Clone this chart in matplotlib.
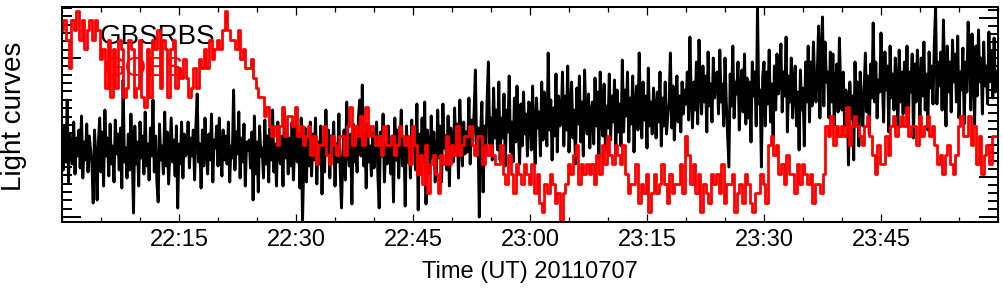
import numpy as np
import matplotlib
matplotlib.use("Agg")
import matplotlib.pyplot as plt
import matplotlib.dates as mdates

# GBSRBS light curve, one sample every 10 s from 22:00 UT (relative flux)
gbsrbs_flux = [
    78, 52, 96, 60, 122, 40, 88, 70, 58, 100, 48, 84, 66, 92, 54, 106, 44, 80, 62, 98, 50, 86, 72, 58,
    19, 92, 64, 22, 80, 104, 50, 90, 36, 112, 66, 84, 46, 98, 58, 76, 40, 102, 68, 88, 52, 94, 34, 142,
    60, 74, 44, 88, 52, 108, 70, 9, 96, 58, 80, 36, 100, 64, 86, 48, 110, 56, 78, 42, 94, 66, 122, 50,
    86, 40, 20, 98, 62, 76, 48, 110, 56, 90, 38, 72, 104, 60, 82, 46, 96, 14, 78, 58, 100, 44, 88, 66,
    70, 100, 54, 84, 66, 92, 42, 96, 128, 60, 78, 34, 92, 56, 104, 70, 48, 88, 62, 108, 40, 82, 74, 96,
    56, 104, 70, 46, 92, 62, 86, 58, 100, 40, 76, 64, 132, 52, 90, 68, 110, 44, 84, 60, 98, 36, 80, 72,
    82, 54, 90, 22, 106, 48, 80, 30, 96, 66, 74, 44, 102, 58, 86, 40, 94, 62, 112, 50, 78, 36, 100, 68,
    58, 86, 36, 110, 64, 92, 48, 84, 56, 100, 42, 76, 96, 60, 88, 34, 104, 0, 62, 94, 40, 84, 56, 100,
    46, 88, 62, 104, 38, 80, 58, 96, 28, 84, 50, 112, 70, 92, 44, 86, 66, 100, 36, 78, 60, 108, 52, 14,
    64, 92, 42, 120, 70, 56, 88, 18, 98, 60, 76, 50, 104, 122, 66, 137, 56, 88, 34, 98, 60, 76, 46, 90,
    54, 82, 100, 46, 14, 90, 66, 108, 40, 78, 58, 96, 70, 48, 86, 20, 104, 62, 92, 44, 80, 112, 56, 84,
    16, 96, 60, 84, 44, 102, 70, 88, 52, 118, 12, 88, 66, 104, 58, 120, 18, 92, 74, 48, 106, 64, 90, 40,
    48, 112, 64, 96, 40, 118, 74, 86, 52, 106, 36, 94, 78, 60, 114, 70, 98, 44, 122, 82, 56, 100, 68, 90,
    70, 124, 58, 102, 80, 110, 152, 66, 94, 5, 88, 120, 30, 96, 66, 122, 160, 78, 104, 62, 134, 84, 112, 72,
    140, 62, 104, 84, 128, 56, 112, 90, 146, 70, 100, 60, 124, 80, 136, 92, 58, 118, 76, 130, 88, 108, 66, 120,
    118, 72, 136, 88, 58, 124, 94, 110, 66, 140, 82, 130, 100, 76, 169, 92, 122, 62, 114, 86, 148, 70, 126, 96,
    100, 150, 76, 126, 92, 156, 70, 118, 140, 84, 112, 58, 134, 98, 146, 80, 120, 66, 152, 104, 88, 128, 74, 110,
    120, 78, 144, 96, 130, 64, 150, 104, 86, 138, 72, 116, 94, 148, 82, 126, 100, 142, 68, 132, 90, 118, 76, 162,
    90, 132, 106, 150, 80, 124, 98, 146, 70, 118, 136, 92, 169, 110, 84, 140, 102, 126, 74, 154, 96, 120, 88, 134,
    112, 84, 130, 100, 150, 76, 124, 96, 140, 88, 106, 120, 169, 94, 136, 82, 118, 146, 100, 126, 90, 140, 108, 132,
    118, 150, 102, 185, 126, 94, 140, 112, 160, 98, 182, 134, 108, 156, 120, 146, 90, 170, 116, 138, 100, 164, 124, 144,
    150, 108, 172, 120, 138, 96, 164, 120, 88, 55, 148, 116, 176, 104, 140, 128, 160, 92, 134, 152, 110, 168, 98, 144,
    104, 140, 80, 160, 126, 150, 96, 215, 118, 132, 55, 146, 160, 96, 150, 118, 172, 100, 138, 84, 156, 112, 168, 128,
    142, 178, 110, 150, 126, 185, 90, 146, 120, 164, 104, 138, 156, 96, 130, 72, 152, 112, 134, 76, 160, 120, 176, 100,
    160, 116, 180, 140, 120, 150, 196, 104, 168, 205, 116, 180, 140, 150, 104, 170, 120, 168, 96, 138, 158, 110, 184, 132,
    112, 150, 96, 132, 120, 57, 140, 104, 126, 62, 160, 104, 140, 76, 150, 120, 96, 132, 169, 110, 146, 88, 158, 124,
    199, 120, 160, 104, 142, 130, 189, 142, 100, 170, 132, 156, 90, 176, 124, 148, 112, 164, 138, 96, 172, 120, 150, 108,
    160, 110, 176, 96, 150, 130, 168, 84, 158, 120, 172, 140, 102, 164, 126, 180, 112, 148, 92, 170, 134, 156, 118, 178,
    215, 118, 160, 136, 170, 112, 202, 146, 96, 176, 130, 160, 110, 182, 140, 168, 120, 186, 104, 150, 132, 174, 98, 160,
    130, 200, 172, 112, 188, 150, 98, 176, 126, 192, 140, 164, 108, 180, 136, 156, 118, 190, 142, 170, 124, 184, 130, 150,
]

# GOES light curve, one sample every 20 s from 22:00 UT (quantised levels)
goes_level = [
    20, 21, 19, 16, 21, 20, 22, 19, 21, 18, 20, 21,
    19, 21, 20, 17, 18, 14, 19, 13, 18, 14, 19, 18,
    13, 14, 19, 18, 13, 14, 19, 13, 12, 18, 13, 19,
    18, 20, 14, 19, 18, 13, 18, 19, 14, 16, 15, 17,
    15, 13, 14, 16, 14, 17, 16, 18, 16, 19, 17, 18,
    19, 18, 20, 22, 20, 19, 19, 18, 20, 17, 18, 16,
    16, 17, 15, 14, 13, 13, 11, 12, 10, 9, 10, 8,
    10, 12, 9, 11, 11, 10, 12, 9, 10, 8, 9, 10,
    7, 9, 6, 8, 8, 10, 7, 6, 9, 8, 7, 9,
    9, 7, 10, 12, 8, 10, 9, 11, 8, 12, 9, 10,
    9, 8, 9, 7, 10, 8, 8, 9, 7, 8, 10, 9,
    8, 9, 6, 10, 8, 5, 7, 4, 8, 3, 6, 7,
    5, 3, 7, 6, 9, 6, 8, 7, 10, 7, 8, 9,
    9, 10, 8, 7, 9, 9, 6, 8, 7, 8, 7, 6,
    6, 8, 5, 4, 7, 5, 3, 6, 5, 4, 6, 5,
    4, 6, 3, 5, 2, 1, 4, 3, 5, 4, 2, 3,
    0, 3, 4, 6, 5, 7, 8, 4, 6, 5, 6, 5,
    6, 4, 7, 5, 8, 6, 9, 7, 6, 8, 7, 6,
    8, 5, 3, 4, 4, 6, 2, 4, 3, 5, 1, 3,
    5, 3, 4, 6, 4, 2, 5, 3, 4, 4, 6, 3,
    9, 7, 4, 6, 3, 5, 1, 4, 3, 2, 5, 4,
    5, 3, 6, 2, 4, 4, 5, 1, 3, 4, 2, 5,
    4, 2, 1, 3, 3, 5, 4, 2, 8, 9, 7, 8,
    5, 6, 4, 7, 5, 5, 3, 6, 4, 6, 5, 4,
    5, 2, 4, 4, 3, 5, 10, 9, 11, 8, 10, 9,
    10, 9, 12, 8, 10, 11, 10, 9, 8, 10, 11, 9,
    7, 5, 8, 6, 6, 9, 7, 10, 11, 9, 10, 11,
    10, 12, 9, 10, 10, 8, 11, 9, 10, 11, 9, 10,
    8, 6, 7, 5, 7, 8, 6, 5, 7, 10, 11, 9,
    9, 11, 8, 10, 6, 9, 5, 7, 8, 6, 9, 9,
]

series_names = ["GBSRBS", "GOES"]
xlabel = "Time (UT) 20110707"
ylabel = "Light curves"

start = np.datetime64("2011-07-07T22:00:00")
end = np.datetime64("2011-07-08T00:00:00")
gbsrbs_time = start + np.arange(len(gbsrbs_flux)) * np.timedelta64(10, "s")
goes_time = start + np.arange(len(goes_level)) * np.timedelta64(20, "s")

plt.rcParams["font.family"] = ["Liberation Sans", "DejaVu Sans"]

fig = plt.figure(figsize=(10.04, 2.96), dpi=100)
ax = fig.add_axes([62 / 1004, 74 / 296, 936 / 1004, 215 / 296])
ax2 = ax.twinx()

ax.plot(gbsrbs_time, gbsrbs_flux, color="black", lw=2.1)
ax2.plot(goes_time, goes_level, color="red", lw=2.0, drawstyle="steps-mid")

ax.set_xlim(start, end)
ax.set_ylim(0, 215)
ax2.set_ylim(0, 215 / 9.6)

# x ticks
major = start + np.arange(1, 8) * np.timedelta64(15, "m")
ax.set_xticks(major)
ax.xaxis.set_minor_locator(mdates.MinuteLocator(byminute=range(0, 60, 5)))
ax.xaxis.set_major_formatter(mdates.DateFormatter("%H:%M"))
ax.tick_params(axis="x", which="both", direction="in", top=True,
               width=0.9, labelsize=17, pad=5)
ax.tick_params(axis="x", which="major", length=6)
ax.tick_params(axis="x", which="minor", length=3.5)

# y ticks (no labels), left for GBSRBS, right for GOES
left_major = [164, 5]
left_minor = np.concatenate([164 + 8.37 * np.arange(1, 7), 164 - 8.37 * np.arange(1, 19)])
ax.set_yticks(left_major)
ax.set_yticks(left_minor, minor=True)
ax.tick_params(axis="y", which="both", direction="in", width=1.4, labelleft=False)
ax.tick_params(axis="y", which="major", length=13.5)
ax.tick_params(axis="y", which="minor", length=7)

right_major = np.array([204, 45, 5]) / 9.6
right_minor = np.concatenate([204 + 7.95 * np.arange(1, 2), 204 - 7.95 * np.arange(1, 25)]) / 9.6
ax2.set_yticks(right_major)
ax2.set_yticks(right_minor, minor=True)
ax2.tick_params(axis="y", which="both", direction="in", width=1.4, labelright=False)
ax2.tick_params(axis="y", which="major", length=13.5)
ax2.tick_params(axis="y", which="minor", length=7)

for a in (ax, ax2):
    for sp in a.spines.values():
        sp.set_linewidth(1.4)

ax.text(0.0406, 0.86, series_names[0], transform=ax.transAxes, color="black",
        fontsize=20, ha="left", va="center")
ax2.text(0.044, 0.71, series_names[1], transform=ax2.transAxes, color="red",
         fontsize=20, ha="left", va="center", zorder=5)

ax.set_xlabel(xlabel, fontsize=17)
ax.xaxis.label.set_va("center")
ax.xaxis.set_label_coords(0.5, (222 - 272) / 215)
fig.text(14 / 1004, 1 - 116 / 296, ylabel, rotation=90, fontsize=20,
         ha="center", va="center")

fig.savefig("out.png", dpi=100)
